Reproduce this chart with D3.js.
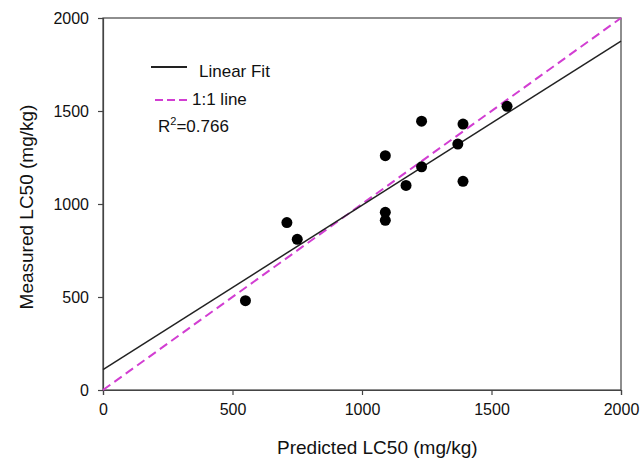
<!DOCTYPE html>
<html>
<head>
<meta charset="utf-8">
<script src="https://cdn.jsdelivr.net/npm/d3@7"></script>
<style>
  body { margin: 0; background: #fff; }
  text { font-family: "Liberation Sans", Arial, sans-serif; }
</style>
</head>
<body>
<svg id="chart" width="644" height="461"></svg>
<script>
// data
const predicted = [550, 710, 750, 1090, 1090, 1090, 1170, 1230, 1230, 1370, 1390, 1390, 1560];
const measured  = [480, 900, 810, 1260, 955, 912, 1100, 1445, 1200, 1322, 1430, 1122, 1525];
const xTicks = [0, 500, 1000, 1500, 2000];
const yTicks = [0, 500, 1000, 1500, 2000];
const fitLine = [[0, 110], [2000, 1876]];
const oneToOne = [[0, 0], [2000, 2000]];
const legendLabels = ["Linear Fit", "1:1 line"];

const svg = d3.select("#chart");
const margin = {left: 103, right: 23, top: 18, bottom: 71};
const W = 644, H = 461;

const x = d3.scaleLinear().domain([0, 2000]).range([margin.left, W - margin.right]);
const y = d3.scaleLinear().domain([0, 2000]).range([H - margin.bottom, margin.top]);

// frame
svg.append("rect")
    .attr("x", x(0)).attr("y", y(2000))
    .attr("width", x(2000) - x(0)).attr("height", y(0) - y(2000))
    .attr("fill", "none").attr("stroke", "#444").attr("stroke-width", 1.2);

// axes
const xAxis = svg.append("g")
    .attr("transform", `translate(0,${y(0)})`)
    .call(d3.axisBottom(x).tickValues(xTicks).tickFormat(d3.format("d")).tickSize(5).tickPadding(9));
const yAxis = svg.append("g")
    .attr("transform", `translate(${x(0)},0)`)
    .call(d3.axisLeft(y).tickValues(yTicks).tickFormat(d3.format("d")).tickSize(5).tickPadding(9));

[xAxis, yAxis].forEach(g => {
    g.select(".domain").attr("stroke", "#444").attr("stroke-width", 1.2);
    g.selectAll(".tick line").attr("stroke", "#444").attr("stroke-width", 1.2);
    g.selectAll(".tick text")
        .attr("font-size", "16px")
        .attr("fill", "#111")
        .style("font-family", "'Liberation Sans', Arial, sans-serif");
});

const line = d3.line().x(d => x(d[0])).y(d => y(d[1]));

// 1:1 line
svg.append("path")
    .attr("d", line(oneToOne))
    .attr("fill", "none")
    .attr("stroke", "#d23ed2")
    .attr("stroke-width", 2)
    .attr("stroke-dasharray", "9,5");

// linear fit
svg.append("path")
    .attr("d", line(fitLine))
    .attr("fill", "none")
    .attr("stroke", "#222")
    .attr("stroke-width", 1.5);

// points
svg.append("g").selectAll("circle")
    .data(predicted.map((p, i) => [p, measured[i]]))
    .join("circle")
    .attr("cx", d => x(d[0]))
    .attr("cy", d => y(d[1]))
    .attr("r", 5.5)
    .attr("fill", "#000");

// legend
svg.append("line")
    .attr("x1", 151).attr("x2", 187).attr("y1", 67).attr("y2", 67)
    .attr("stroke", "#222").attr("stroke-width", 2);
svg.append("text")
    .attr("x", 199).attr("y", 77)
    .attr("font-size", "17px").attr("fill", "#111")
    .text(legendLabels[0]);

svg.append("line")
    .attr("x1", 155).attr("x2", 190).attr("y1", 100).attr("y2", 100)
    .attr("stroke", "#d23ed2").attr("stroke-width", 2.2)
    .attr("stroke-dasharray", "8,4");
svg.append("text")
    .attr("x", 192).attr("y", 105)
    .attr("font-size", "17px").attr("fill", "#111")
    .text(legendLabels[1]);

const r2 = svg.append("text")
    .attr("x", 158).attr("y", 132)
    .attr("font-size", "17px").attr("fill", "#111");
r2.append("tspan").text("R");
r2.append("tspan").attr("font-size", "11px").attr("dy", -7).text("2");
r2.append("tspan").attr("dy", 7).text("=0.766");

// axis titles
svg.append("text")
    .attr("x", 277).attr("y", 454)
    .attr("font-size", "19px").attr("fill", "#111")
    .text("Predicted LC50 (mg/kg)");

svg.append("text")
    .attr("transform", "translate(33,207) rotate(-90)")
    .attr("text-anchor", "middle")
    .attr("font-size", "19px").attr("fill", "#111")
    .text("Measured LC50 (mg/kg)");
</script>
</body>
</html>
